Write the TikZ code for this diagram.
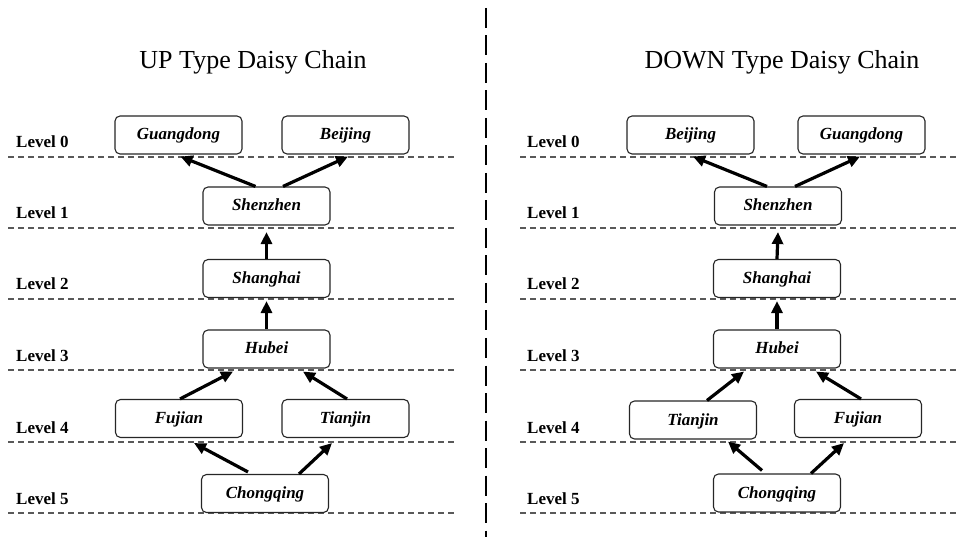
\documentclass[tikz,border=0pt]{standalone}
\usepackage{fontspec}
\setmainfont{Liberation Serif}
\usetikzlibrary{arrows.meta}
\begin{document}
\begin{tikzpicture}[x=1pt,y=-1pt,
 city/.style={draw=black!85, line width=1.1pt, rounded corners=5pt, minimum width=127pt, minimum height=38pt, inner sep=0pt, text height=13pt, text depth=3pt, font=\fontsize{17}{20}\selectfont\bfseries\itshape, fill=white},
 lvl/.style={anchor=base west, inner sep=0pt, font=\fontsize{17}{20}\selectfont\bfseries},
 ttl/.style={anchor=base, inner sep=0pt, font=\fontsize{26}{30}\selectfont},
 sep/.style={draw=black!65, line width=1.2pt, dash pattern=on 6pt off 4pt},
 link/.style={line width=3.2pt, -{Triangle[length=12pt,width=11pt]}},
]
\useasboundingbox (0,0) rectangle (956,537);

% divider
\draw[line width=2.8pt, dash pattern=on 20pt off 7.5pt] (486,8) -- (486,537);

% titles
\node[ttl] (tup) at (253,69) {UP Type Daisy Chain};
\node[ttl] (tdown) at (782,69) {DOWN Type Daisy Chain};

% level separators and labels
\foreach \i/\y in {0/157,1/228,2/299,3/370,4/442,5/513}{
  \draw[sep] (8,\y) -- (455,\y);
  \draw[sep] (520,\y) -- (956,\y);
  \node[lvl] (la\i) at (16,\y-9) {Level \i};
  \node[lvl] (lb\i) at (527,\y-9) {Level \i};
}

% left panel nodes
\node[city] (gd) at (178.5,135) {Guangdong};
\node[city] (bj) at (345.5,135) {Beijing};
\node[city] (shz) at (266.5,206) {Shenzhen};
\node[city] (sh) at (266.5,278.5) {Shanghai};
\node[city] (hb) at (266.5,349) {Hubei};
\node[city] (fj) at (179,418.5) {Fujian};
\node[city] (tj) at (345.5,418.5) {Tianjin};
\node[city] (cq) at (265,493.5) {Chongqing};

% left panel arrows
\draw[link] ([xshift=-11pt]shz.north) -- ([xshift=2pt,yshift=-2pt]gd.south);
\draw[link] ([xshift=16.5pt]shz.north) -- ([xshift=2.5pt,yshift=-2pt]bj.south);
\draw[link] (sh.north) -- ([yshift=-6.5pt]shz.south);
\draw[link] (hb.north) -- ([yshift=-3pt]sh.south);
\draw[link] ([xshift=1pt]fj.north) -- ([xshift=-33.5pt,yshift=-3pt]hb.south);
\draw[link] ([xshift=1.5pt]tj.north) -- ([xshift=36.5pt,yshift=-3pt]hb.south);
\draw[link] ([xshift=-17pt,yshift=2pt]cq.north) -- ([xshift=15pt,yshift=-5pt]fj.south);
\draw[link] ([xshift=34pt]cq.north) -- ([xshift=-13.5pt,yshift=-5pt]tj.south);

% right panel nodes
\node[city] (bj2) at (690.5,135) {Beijing};
\node[city] (gd2) at (861.5,135) {Guangdong};
\node[city] (shz2) at (778,206) {Shenzhen};
\node[city] (sh2) at (777,278.5) {Shanghai};
\node[city] (hb2) at (777,349) {Hubei};
\node[city] (tj2) at (693,420) {Tianjin};
\node[city] (fj2) at (858,418.5) {Fujian};
\node[city] (cq2) at (777,493) {Chongqing};

% right panel arrows
\draw[link] ([xshift=-11pt]shz2.north) -- ([xshift=2.5pt,yshift=-2pt]bj2.south);
\draw[link] ([xshift=17pt]shz2.north) -- ([xshift=-1.5pt,yshift=-2pt]gd2.south);
\draw[link] (sh2.north) -- ([yshift=-6.5pt]shz2.south);
\draw[link] (hb2.north) -- ([yshift=-3pt]sh2.south);
\draw[link] ([xshift=14pt]tj2.north) -- ([xshift=-33pt,yshift=-3pt]hb2.south);
\draw[link] ([xshift=3pt]fj2.north) -- ([xshift=39pt,yshift=-3pt]hb2.south);
\draw[link] ([xshift=-15pt,yshift=3pt]cq2.north) -- ([xshift=35pt,yshift=-2pt]tj2.south);
\draw[link] ([xshift=34pt]cq2.north) -- ([xshift=-14pt,yshift=-5pt]fj2.south);
\end{tikzpicture}
\end{document}
